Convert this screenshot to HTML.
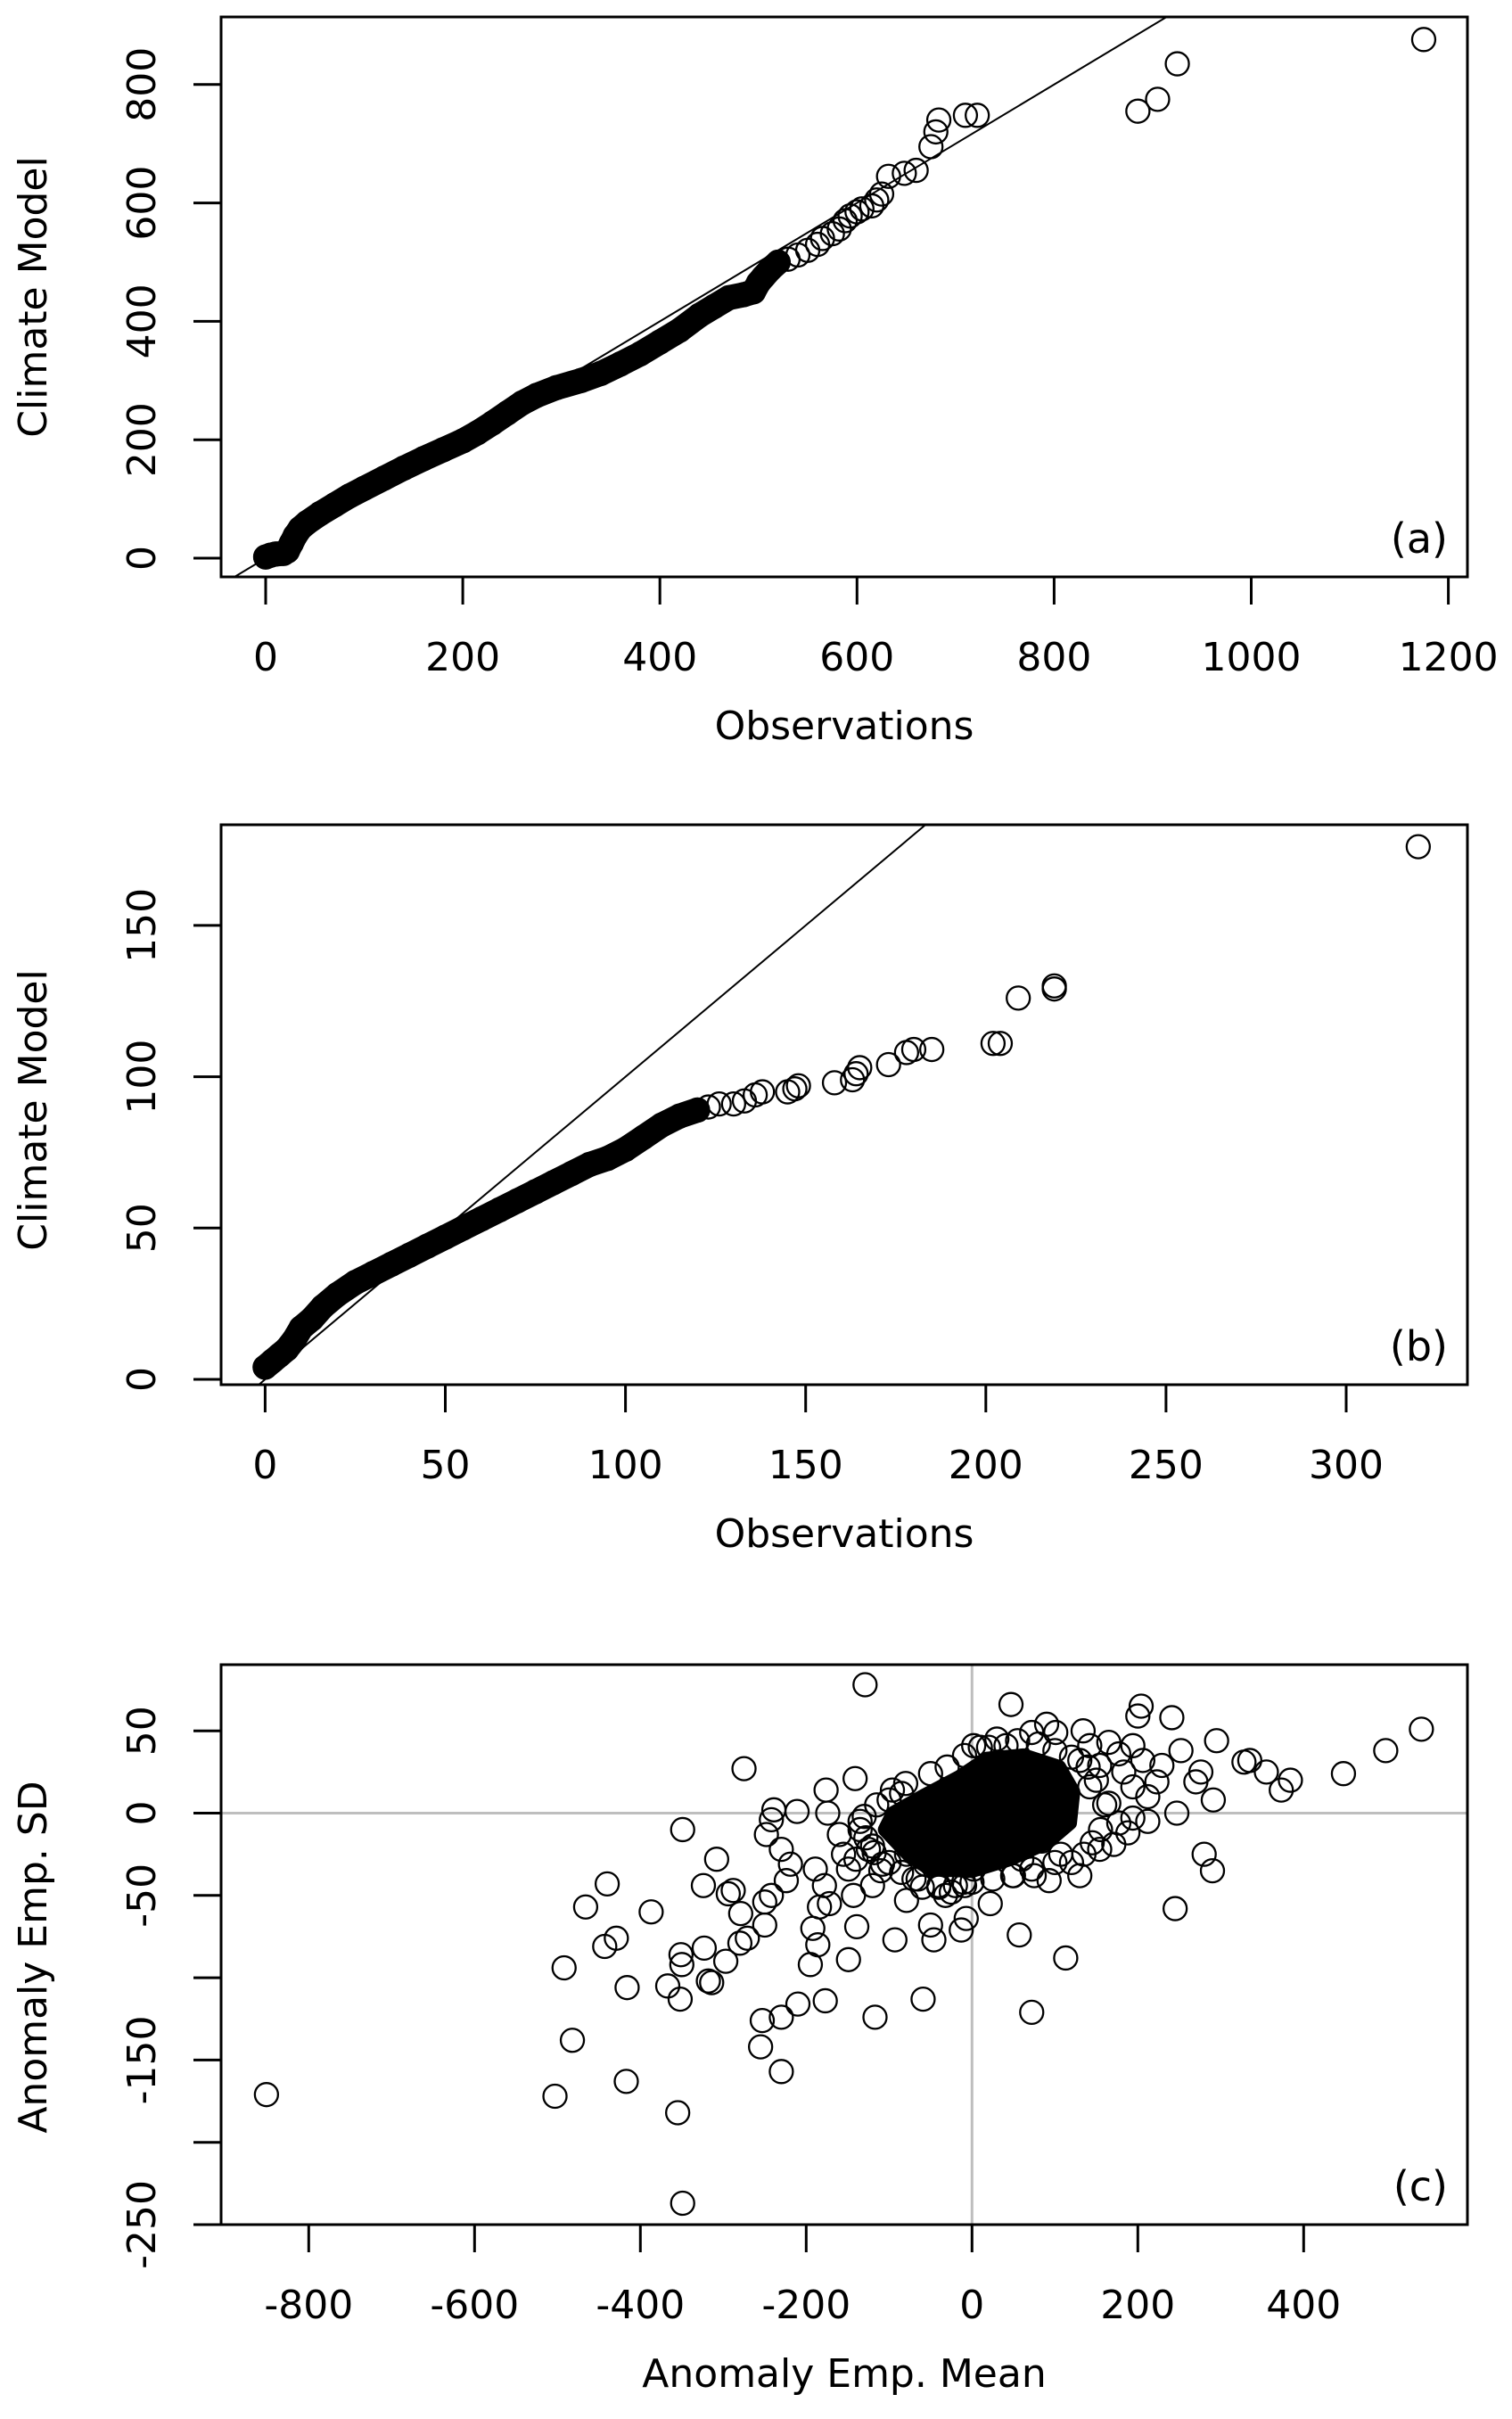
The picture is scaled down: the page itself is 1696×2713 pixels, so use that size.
<!DOCTYPE html>
<html><head><meta charset="utf-8"><style>
html,body{margin:0;padding:0;background:#fff;}
svg{display:block;}
text{font-family:"DejaVu Sans","Liberation Sans",sans-serif;fill:#000;}
</style></head><body>
<svg id="fig" xmlns="http://www.w3.org/2000/svg" width="1696" height="2713" viewBox="0 0 1696 2713"></svg>
<script>
// Panel (a) data
const aDenseObs=[0,5,10,18,22,26,30,35,42,55,70,85,100,120,140,160,180,200,215,230,245,260,275,295,320,340,360,380,400,420,440,455,470,485,495,500,505,512,520];
const aDenseMod=[2,5,7,8,12,25,38,50,60,75,90,105,118,135,152,168,183,198,212,228,245,262,275,288,300,312,328,345,365,385,410,425,440,445,450,465,475,488,500];
const aObs=[530,540,550,560,565,575,582,588,593,600,605,615,620,625,632,648,660,675,680,683,710,722,885,905,925,1175];
const aMod=[505,512,520,530,540,548,556,570,578,585,590,595,605,615,645,650,655,695,720,740,748,748,755,775,835,876];
const aXTicks=[0,200,400,600,800,1000,1200];
const aYTicks=[0,200,400,600,800];
// Panel (b) data
const bDenseObs=[0,2,4,6,8,10,13,16,20,25,30,35,40,45,50,55,60,65,70,75,80,85,90,95,100,105,110,115,120];
const bDenseMod=[4,6,8,10,13,17,20,24,28,32,35,38,41,44,47,50,53,56,59,62,65,68,71,73,76,80,84,87,89];
const bObs=[123,126,130,133,136,138,145,147,148,158,163,164,165,173,178,180,185,202,204,209,219,219,320];
const bMod=[90,91,91,92,94,95,95,96,97,98,99,101,103,104,108,109,109,111,111,126,129,130,176];
const bXTicks=[0,50,100,150,200,250,300];
const bYTicks=[0,50,100,150];
// Panel (c) data
const cCoreX=[-105,-75,-50,0,45,90,118,122,105,62,18,-15,-60,-95];
const cCoreY=[-10,-26,-34,-35,-28,-18,-6,13,28,35,33,22,10,0];
const cX=[-129,47,204,200,241,-275,295,542,499,448,384,373,355,335,328,291,280,290,245,247,270,276,252,229,
-349,-308,-324,-440,-466,-387,-443,-429,-492,-416,-367,-352,-351,-350,-323,-314,-318,-297,-280,-271,-250,-279,-294,-288,-250,-242,
-482,-851,-503,-417,-355,-349,-253,-255,-230,-230,-210,-177,-117,-59,72,113,57,
-195,-186,-192,-149,-139,-93,-46,-50,-13,-7,22,93,130,
-141,-176,-239,-211,-174,-242,-248,-230,-219,-224,-189,-178,-172,-143,-120,-184,-79,-32,-9,
-50,-96,-9,2,20,41,72,90,101,134,142,165,177,194,183,194,212,223,206,165,177,194,171,154,107,60,84,130,154,142,188,212,
-91,-125,-160,-155,-149,-108,-56,-79,2,26,49,72,
-130,-120,-110,-140,-135,-115,-100,-85,-70,-60,-40,-25,-10,10,30,55,80,100,120,140,150,160,155,145,135,120,100,75,50,25,0,-20,-40,-65,-85,-100,-118,-128,-135,-80,-30,20,70,110];
const cY=[78,66,65,59,58,27,44,51,38,24,20,14,25,32,31,8,-25,-35,-58,0,19,25,38,29,
-10,-28,-44,-43,-57,-60,-81,-76,-94,-106,-105,-113,-86,-92,-82,-103,-102,-90,-79,-76,-68,-61,-49,-47,-54,-50,
-138,-171,-172,-163,-182,-237,-126,-142,-157,-124,-116,-114,-124,-113,-121,-88,-74,
-92,-80,-70,-89,-69,-77,-77,-68,-71,-64,-55,-41,-38,
21,14,2,1,0,-4,-13,-22,-31,-41,-34,-44,-55,-50,-44,-57,-53,-50,-44,
24,14,35,41,40,41,49,54,49,50,41,43,36,41,25,16,10,19,32,6,-6,-3,-19,-22,-25,-28,-17,32,29,16,-12,-5,
-6,-22,-13,-25,-34,-31,-31,-25,-34,-25,-38,-34,
-2,-20,-35,-28,-10,5,8,12,-40,-45,-45,-48,-42,40,45,44,42,38,34,28,20,5,-10,-18,-25,-30,-30,-38,-38,-40,-42,-44,-44,-40,-36,-30,-24,-15,-5,18,28,-20,-10,0];
const cXTicks=[-800,-600,-400,-200,0,200,400];
const cYTicks=[50,0,-50,-100,-150,-200,-250];
const cYLabels=[50,0,-50,null,-150,null,-250];

const NS='http://www.w3.org/2000/svg';
const svg=document.getElementById('fig');
function mk(tag,attrs,parent){const e=document.createElementNS(NS,tag);for(const k in attrs)e.setAttribute(k,attrs[k]);(parent||svg).appendChild(e);return e;}

function panel(cfg){
  const g=mk('g',{});
  
  
  const sx=v=>cfg.x0+v*cfg.kx, sy=v=>cfg.y0-v*cfg.ky;
  const cp=mk('clipPath',{id:cfg.name+'-clip'},g);
  mk('rect',{x:cfg.L,y:cfg.T,width:cfg.R-cfg.L,height:cfg.B-cfg.T},cp);
  const plot=mk('g',{'clip-path':'url(#'+cfg.name+'-clip)'},g);
  
  
  if(cfg.extra) cfg.extra(plot,sx,sy);
  cfg.xt.forEach(v=>{
    const t=mk('line',{x1:sx(v),x2:sx(v),y1:cfg.B,y2:cfg.B+31,stroke:'#000','stroke-width':3},g);
    
    
    const l=mk('text',{x:sx(v),y:cfg.B+105,'text-anchor':'middle','font-size':44},g);
    l.textContent=v;
    
    
  });
  cfg.yt.forEach((v,i)=>{
    const t=mk('line',{x1:cfg.L-31,x2:cfg.L,y1:sy(v),y2:sy(v),stroke:'#000','stroke-width':3},g);
    
    
    const lab=cfg.yl?cfg.yl[i]:v;
    if(lab===null)return;
    const l=mk('text',{x:0,y:0,transform:'translate(174,'+sy(v)+') rotate(-90)','text-anchor':'middle','font-size':44},g);
    l.textContent=lab;
    
    
  });
  const box=mk('rect',{x:cfg.L,y:cfg.T,width:cfg.R-cfg.L,height:cfg.B-cfg.T,fill:'none',stroke:'#000','stroke-width':3},g);
  
  
  const xt=mk('text',{x:(cfg.L+cfg.R)/2,y:cfg.B+182,'text-anchor':'middle','font-size':44},g);
  xt.textContent=cfg.xlab;
  
  
  const yt=mk('text',{x:0,y:0,transform:'translate(52,'+cfg.ycen+') rotate(-90)','text-anchor':'middle','font-size':44},g);
  yt.textContent=cfg.ylab;
  
  
  const pl=mk('text',{x:cfg.R-22,y:cfg.B-27,'text-anchor':'end','font-size':46},g);
  pl.textContent=cfg.tag;
  
  
}
function circles(p,sx,sy,xs,ys,nm){
  xs.forEach((v,i)=>{
    const c=mk('circle',{cx:sx(v),cy:sy(ys[i]),r:13,fill:'none',stroke:'#000','stroke-width':2.3},p);
    
    
  });
}
function band(p,sx,sy,xs,ys,w){
  const d=xs.map((v,i)=>(i?'L':'M')+sx(v)+','+sy(ys[i])).join(' ');
  const b=mk('path',{d:d,fill:'none',stroke:'#000','stroke-width':w,'stroke-linejoin':'round','stroke-linecap':'round'},p);
  
  
}
function idLine(p,sx,sy){
  const l=mk('line',{x1:sx(-100),y1:sy(-100),x2:sx(2000),y2:sy(2000),stroke:'#000','stroke-width':2},p);
  
  
}

panel({name:'panel-a',L:248,R:1646,T:19,B:647,x0:298,kx:1.1055,y0:626,ky:0.664,xt:aXTicks,yt:aYTicks,
  xlab:'Observations',ylab:'Climate Model',ycen:333,tag:'(a)',
  extra:(p,sx,sy)=>{idLine(p,sx,sy);band(p,sx,sy,aDenseObs,aDenseMod,28);circles(p,sx,sy,aDenseObs,aDenseMod,'qq-point');circles(p,sx,sy,aObs,aMod,'qq-point');}});
panel({name:'panel-b',L:248,R:1646,T:925,B:1553,x0:297.4,kx:4.042,y0:1547,ky:3.394,xt:bXTicks,yt:bYTicks,
  xlab:'Observations',ylab:'Climate Model',ycen:1245,tag:'(b)',
  extra:(p,sx,sy)=>{idLine(p,sx,sy);band(p,sx,sy,bDenseObs,bDenseMod,28);circles(p,sx,sy,bDenseObs,bDenseMod,'qq-point');circles(p,sx,sy,bObs,bMod,'qq-point');}});
panel({name:'panel-c',L:248,R:1646,T:1867,B:2495,x0:1090.3,kx:0.930,y0:2033.5,ky:1.846,xt:cXTicks,yt:cYTicks,yl:cYLabels,
  xlab:'Anomaly Emp. Mean',ylab:'Anomaly Emp. SD',ycen:2195,tag:'(c)',
  extra:(p,sx,sy)=>{
    const h=mk('line',{x1:0,x2:1696,y1:sy(0),y2:sy(0),stroke:'#bebebe','stroke-width':3},p);
    
    
    const v=mk('line',{x1:sx(0),x2:sx(0),y1:0,y2:2713,stroke:'#bebebe','stroke-width':3},p);
    
    
    const core=mk('polygon',{points:cCoreX.map((x,i)=>sx(x)+','+sy(cCoreY[i])).join(' '),fill:'#000',stroke:'#000','stroke-width':16,'stroke-linejoin':'round'},p);
    
    
    circles(p,sx,sy,cX,cY,'scatter-point');
  }});
</script>
</body></html>
